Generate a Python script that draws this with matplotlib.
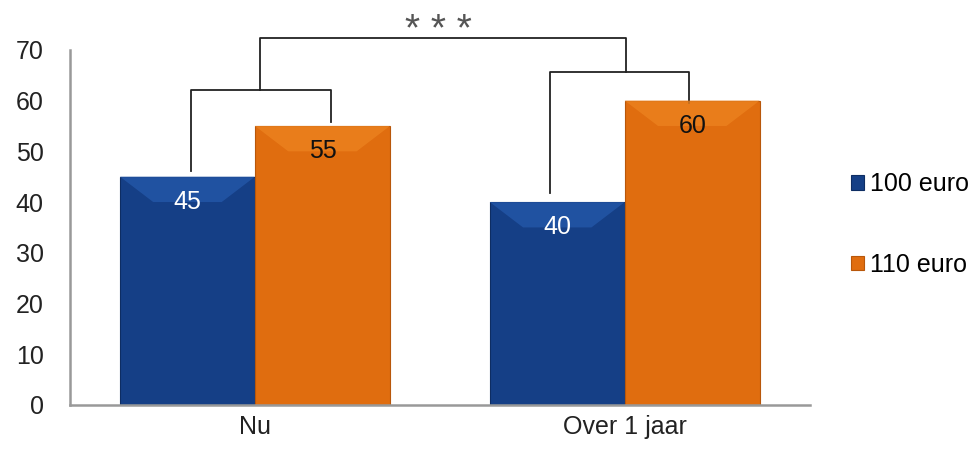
import matplotlib.pyplot as plt
from matplotlib.patches import Polygon
import numpy as np

plt.rcParams['font.family'] = ['Liberation Sans', 'DejaVu Sans']

categories = ['Nu', 'Over 1 jaar']
series = ['100 euro', '110 euro']
values_100 = [45, 40]
values_110 = [55, 60]
colors = ['#153f86', '#e06d0f']
bevel_top = ['#2457a8', '#ec821f']

fig = plt.figure(figsize=(9.77, 4.49), dpi=100)
ax = fig.add_axes([0.0717, 0.098, 0.757, 0.791])

x = np.arange(len(categories))
w = 0.365
b1 = ax.bar(x - w / 2, values_100, w, color=colors[0], edgecolor='#0e2d63', linewidth=0.8, label=series[0])
b2 = ax.bar(x + w / 2, values_110, w, color=colors[1], edgecolor='#b8570a', linewidth=0.8, label=series[1])

# light bevel on the bar tops
for i, bars in enumerate([b1, b2]):
    for r in bars:
        x0, x1, h = r.get_x(), r.get_x() + r.get_width(), r.get_height()
        dx, dy = 0.09, 5.0
        ax.add_patch(Polygon([[x0, h], [x1, h], [x1 - dx, h - dy], [x0 + dx, h - dy]],
                             closed=True, color=bevel_top[i], lw=0, zorder=2.1, alpha=0.8))

# value labels inside the bars, near the top
for bars, vals, col in [(b1, values_100, 'white'), (b2, values_110, '#111111')]:
    for r, v in zip(bars, vals):
        ax.text(r.get_x() + r.get_width() / 2, v - 5, str(v), ha='center', va='center',
                fontsize=18, color=col, zorder=3)

# significance brackets
lw = 1.3
bk = dict(color='#222222', lw=lw, clip_on=False)
ax.plot([-0.173, -0.173, 0.205, 0.205], [46.2, 62, 62, 55.8], **bk)
ax.plot([0.797, 0.797, 1.173, 1.173], [41.8, 65.7, 65.7, 59.6], **bk)
ax.plot([0.014, 0.014, 1.003, 1.003], [62, 72.4, 72.4, 65.7], **bk)
ax.text(0.495, 73.8, '* * *', ha='center', va='center', fontsize=28, color='#555555', clip_on=False)

ax.set_xlim(-0.5, 1.5)
ax.set_ylim(0, 70)
ax.set_yticks(range(0, 71, 10))
ax.set_xticks(x)
ax.set_xticklabels(categories)
ax.tick_params(axis='both', length=0, labelsize=18, labelcolor='#222222')
ax.tick_params(axis='y', pad=19)
ax.tick_params(axis='x', pad=7)
for s in ['top', 'right']:
    ax.spines[s].set_visible(False)
for s in ['left', 'bottom']:
    ax.spines[s].set_color('#999999')
    ax.spines[s].set_linewidth(1.8)

ax.legend(loc='center left', bbox_to_anchor=(1.025, 0.508), frameon=False, fontsize=18,
          handlelength=0.52, handleheight=0.52, handletextpad=0.25, labelspacing=2.25)

fig.savefig('out.png', dpi=100)
